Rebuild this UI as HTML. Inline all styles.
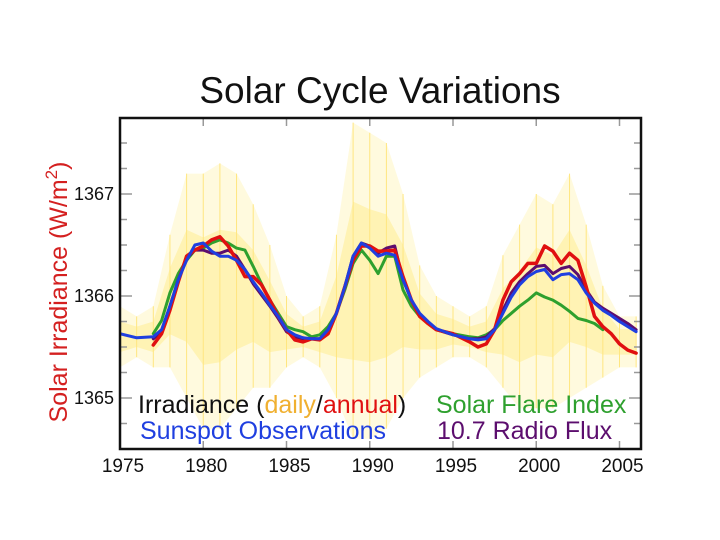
<!DOCTYPE html>
<html><head><meta charset="utf-8">
<style>
body{margin:0;background:#fff;}
svg{display:block;font-family:"Liberation Sans",Arial,sans-serif;}
</style></head>
<body>
<svg id="chart" width="720" height="540" viewBox="0 0 720 540">
<text x="380" y="103" font-size="37" text-anchor="middle" fill="#111">Solar Cycle Variations</text>
<text transform="translate(67,292) rotate(-90)" font-size="25" text-anchor="middle" fill="#d42020">Solar Irradiance (W/m<tspan dy="-10" font-size="17">2</tspan><tspan dy="10">)</tspan></text>
<defs><clipPath id="clip"><rect x="120" y="118" width="521" height="331"/></clipPath></defs>
<g id="plot" clip-path="url(#clip)"></g>
<g id="axes"></g>
<rect x="120" y="118" width="521" height="331" fill="none" stroke="#111" stroke-width="2.5"/>
<g font-size="25">
<text x="138" y="413" fill="#111">Irradiance (<tspan fill="#f0b030">daily</tspan>/<tspan fill="#e01010">annual</tspan>)</text>
<text x="140" y="439" fill="#1f3fe0">Sunspot Observations</text>
<text x="436" y="413" fill="#2ea02e">Solar Flare Index</text>
<text x="437" y="439" fill="#5c0e6e">10.7 Radio Flux</text>
</g>
</svg>
<script>
const years=[1975,1976,1977,1977.5,1978,1978.5,1979,1979.5,1980,1980.5,1981,1981.5,1982,1982.5,1983,1983.5,1984,1984.5,1985,1985.5,1986,1986.5,1987,1987.5,1988,1988.5,1989,1989.5,1990,1990.5,1991,1991.5,1992,1992.5,1993,1993.5,1994,1995,1996,1996.5,1997,1997.5,1998,1998.5,1999,1999.5,2000,2000.5,2001,2001.5,2002,2002.5,2003,2003.5,2004,2004.5,2005,2005.5,2006];
const sunspot=[1365.63,1365.59,1365.60,1365.67,1365.90,1366.16,1366.35,1366.50,1366.52,1366.44,1366.39,1366.39,1366.35,1366.26,1366.14,1366.03,1365.91,1365.80,1365.67,1365.62,1365.59,1365.58,1365.58,1365.67,1365.83,1366.09,1366.39,1366.52,1366.47,1366.39,1366.42,1366.40,1366.16,1365.96,1365.83,1365.75,1365.68,1365.62,1365.58,1365.57,1365.58,1365.67,1365.83,1365.99,1366.11,1366.19,1366.24,1366.26,1366.16,1366.21,1366.22,1366.16,1366.03,1365.93,1365.86,1365.81,1365.75,1365.70,1365.65];
const annual=[null,null,1365.52,1365.63,1365.86,1366.14,1366.39,1366.45,1366.49,1366.55,1366.58,1366.49,1366.35,1366.19,1366.19,1366.11,1365.96,1365.80,1365.67,1365.57,1365.55,1365.58,1365.57,1365.63,1365.83,1366.09,1366.35,1366.49,1366.49,1366.44,1366.44,1366.45,1366.19,1365.96,1365.80,1365.73,1365.67,1365.63,1365.55,1365.50,1365.53,1365.67,1365.96,1366.14,1366.22,1366.32,1366.32,1366.49,1366.44,1366.32,1366.42,1366.35,1366.09,1365.80,1365.70,1365.63,1365.53,1365.47,1365.44];
const flare=[null,null,1365.63,1365.76,1366.03,1366.22,1366.35,1366.45,1366.47,1366.52,1366.55,1366.52,1366.47,1366.45,1366.29,1366.12,1365.96,1365.83,1365.70,1365.67,1365.65,1365.60,1365.62,1365.70,1365.83,1366.06,1366.32,1366.45,1366.35,1366.22,1366.39,1366.39,1366.06,1365.90,1365.80,1365.73,1365.67,1365.63,1365.60,1365.59,1365.62,1365.67,1365.76,1365.83,1365.90,1365.96,1366.03,1365.99,1365.96,1365.91,1365.85,1365.78,1365.76,1365.73,1365.67,null,null,null,null];
const radio=[null,null,1365.58,1365.65,1365.90,1366.16,1366.37,1366.45,1366.45,1366.42,1366.42,1366.45,1366.39,1366.26,1366.12,1366.01,1365.90,1365.78,1365.65,1365.60,1365.58,1365.58,1365.58,1365.67,1365.83,1366.09,1366.39,1366.52,1366.49,1366.42,1366.47,1366.49,1366.16,1365.96,1365.81,1365.73,1365.67,1365.62,1365.58,1365.58,1365.60,1365.68,1365.86,1366.03,1366.14,1366.22,1366.29,1366.30,1366.22,1366.27,1366.29,1366.21,1366.06,1365.94,1365.88,1365.83,1365.78,1365.73,1365.67];
const envYears=[1975,1976,1977,1978,1979,1980,1981,1982,1983,1984,1985,1986,1987,1988,1989,1990,1991,1992,1993,1994,1995,1996,1997,1998,1999,2000,2001,2002,2003,2004,2005,2006];
const dailyMax=[1365.9,1365.8,1365.9,1366.6,1367.2,1367.2,1367.3,1367.2,1366.9,1366.5,1366.0,1365.8,1365.9,1366.6,1367.7,1367.6,1367.5,1367.0,1366.3,1366.0,1365.9,1365.8,1365.9,1366.4,1366.7,1367.0,1366.9,1367.2,1366.7,1366.1,1365.8,1365.8];
const dailyMin=[1365.3,1365.4,1365.3,1365.3,1365.0,1364.7,1364.7,1364.9,1365.1,1365.1,1365.3,1365.4,1365.3,1365.0,1364.6,1364.6,1364.7,1365.0,1365.2,1365.3,1365.4,1365.4,1365.3,1365.1,1364.9,1364.9,1364.9,1365.0,1365.1,1365.2,1365.3,1365.3];
const xTicks=[1975,1980,1985,1990,1995,2000,2005];
const yTicks=[1365,1366,1367];

const NS="http://www.w3.org/2000/svg";
const X=y=>120+(y-1975)*16.65;
const Y=v=>296-(v-1366)*102;
const plot=document.getElementById('plot'),axes=document.getElementById('axes');
function mk(t,a,p){const e=document.createElementNS(NS,t);for(const k in a)e.setAttribute(k,a[k]);p.appendChild(e);return e;}

function band(scale,fill,op,name){
  let top=envYears.map((y,i)=>{const c=(dailyMax[i]+dailyMin[i])/2;return X(y)+','+Y(c+(dailyMax[i]-c)*scale);});
  let bot=envYears.map((y,i)=>{const c=(dailyMax[i]+dailyMin[i])/2;return X(y)+','+Y(c+(dailyMin[i]-c)*scale);}).reverse();
  const p=mk('polygon',{points:top.concat(bot).join(' '),fill:fill,opacity:op},plot);
  
  
}
band(1,'#fff8d0',0.7,'daily-irradiance-outer');
band(0.5,'#ffec80',0.45,'daily-irradiance-inner');
envYears.forEach((y,i)=>{
  const l=mk('line',{x1:X(y),x2:X(y),y1:Y(dailyMax[i]),y2:Y(dailyMin[i]),stroke:'#ffe680','stroke-width':1},plot);
  
  
});

function series(vals,color,name,w){
  let d='',pen=false;
  const n=Math.min(vals.length,years.length);
  for(let i=0;i<n;i++){const v=vals[i];if(v==null){pen=false;continue;}d+=(pen?'L':'M')+X(years[i]).toFixed(1)+','+Y(v).toFixed(1);pen=true;}
  const p=mk('path',{d:d,fill:'none',stroke:color,'stroke-width':w,'stroke-linejoin':'round','stroke-linecap':'round'},plot);
  
  
}
series(flare,'#2ea02e','series-solar-flare-index',3);
series(radio,'#5c0e6e','series-radio-flux',3);
series(annual,'#e01010','series-annual-irradiance',3.5);
series(sunspot,'#1f3fe0','series-sunspot',3);

for(let v=1364.75;v<=1367.76;v+=0.25){
  const y=Y(v);if(y<118||y>449)continue;
  const major=Math.abs(v-Math.round(v))<0.01;const len=major?12:7;
  const a=mk('line',{x1:120,x2:120+len,y1:y,y2:y,stroke:'#999','stroke-width':1.5},axes);
  
  
  const b=mk('line',{x1:641,x2:641-len,y1:y,y2:y,stroke:'#999','stroke-width':1.5},axes);
  
  
}
yTicks.forEach(v=>{
  const t=mk('text',{x:114,y:Y(v)+6,'font-size':18,'text-anchor':'end',fill:'#111'},axes);t.textContent=v;
  
  
});
xTicks.forEach(v=>{
  [[449,441],[118,126]].forEach(p=>{
    const l=mk('line',{x1:X(v),x2:X(v),y1:p[0],y2:p[1],stroke:'#999','stroke-width':1.5},axes);
    
    
  });
  const t=mk('text',{x:X(v)+3,y:472,'font-size':19,'text-anchor':'middle',fill:'#111'},axes);t.textContent=v;
  
  
});
</script>
</body></html>
